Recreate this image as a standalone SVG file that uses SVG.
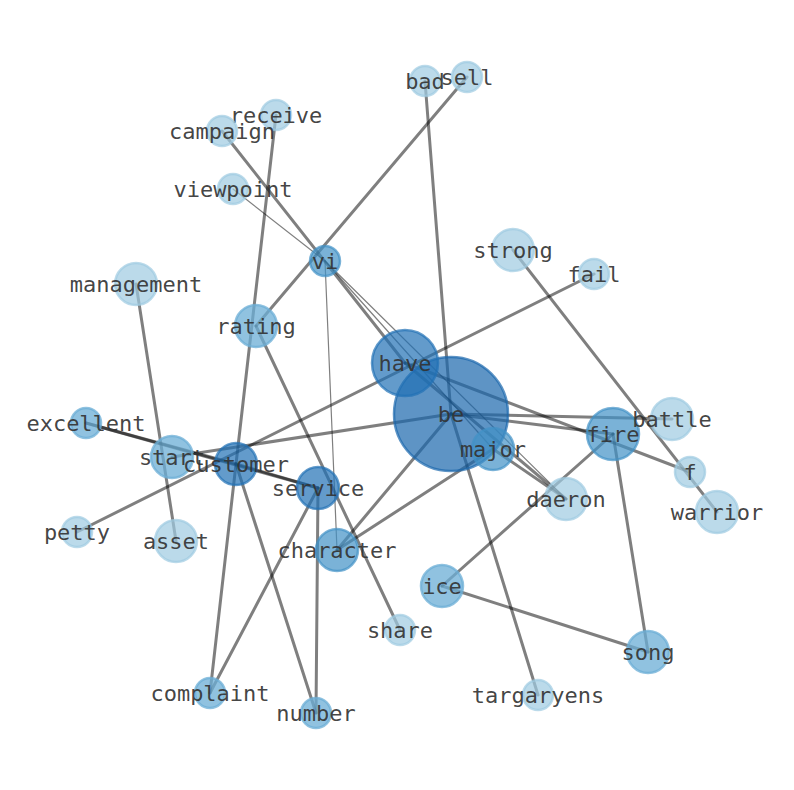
<svg xmlns="http://www.w3.org/2000/svg" width="794" height="790" viewBox="0 0 794 790">
<style>
.e{stroke:#000;stroke-opacity:0.5;stroke-width:3;fill:none;stroke-linecap:round}
.t{stroke-width:1.2}
.n circle{stroke-width:2.5}
.l1 circle{fill:#9ecae1;stroke:#9ecae1;fill-opacity:0.7;stroke-opacity:0.7}
.l2 circle{fill:#6baed6;stroke:#6baed6;fill-opacity:0.75;stroke-opacity:0.75}
.l3 circle{fill:#4292c6;stroke:#4292c6;fill-opacity:0.7;stroke-opacity:0.7}
.l4 circle{fill:#2171b5;stroke:#2171b5;fill-opacity:0.7;stroke-opacity:0.7}
.l5 circle{fill:#1a67ad;stroke:#1a67ad;fill-opacity:0.7;stroke-opacity:0.7}
text{font-family:"DejaVu Sans Mono","Liberation Mono",monospace;font-size:22px;fill:#333;fill-opacity:0.92;text-anchor:middle;dominant-baseline:central}
</style>
<rect width="794" height="790" fill="#fff"/>
<g id="edges">
<line class="e" x1="425" y1="81" x2="451" y2="414"/>
<line class="e" x1="467" y1="77" x2="256" y2="326"/>
<line class="e" x1="222" y1="131" x2="405" y2="363"/>
<line class="e" x1="276" y1="115" x2="236" y2="464"/>
<line class="e t" x1="233" y1="189" x2="325" y2="261"/>
<line class="e t" x1="325" y1="261" x2="337" y2="550"/>
<line class="e t" x1="325" y1="261" x2="493" y2="449"/>
<line class="e t" x1="325" y1="261" x2="566" y2="499"/>
<line class="e" x1="136" y1="284" x2="176" y2="541"/>
<line class="e" x1="513" y1="250" x2="717" y2="512"/>
<line class="e" x1="594" y1="274" x2="77" y2="532"/>
<line class="e" x1="256" y1="326" x2="400" y2="630"/>
<line class="e" x1="172" y1="457" x2="451" y2="414"/>
<line class="e" x1="86" y1="423" x2="318" y2="488"/>
<line class="e" x1="86" y1="423" x2="236" y2="464"/>
<line class="e" x1="236" y1="464" x2="318" y2="488"/>
<line class="e" x1="236" y1="464" x2="210" y2="693"/>
<line class="e" x1="236" y1="464" x2="316" y2="713"/>
<line class="e" x1="318" y1="488" x2="210" y2="693"/>
<line class="e" x1="318" y1="488" x2="316" y2="713"/>
<line class="e" x1="337" y1="550" x2="451" y2="414"/>
<line class="e" x1="337" y1="550" x2="493" y2="449"/>
<line class="e" x1="451" y1="414" x2="538" y2="695"/>
<line class="e" x1="442" y1="586" x2="613" y2="434"/>
<line class="e" x1="442" y1="586" x2="648" y2="652"/>
<line class="e" x1="613" y1="434" x2="648" y2="652"/>
<line class="e" x1="405" y1="363" x2="690" y2="472"/>
<line class="e" x1="451" y1="414" x2="672" y2="419"/>
<line class="e" x1="451" y1="414" x2="613" y2="434"/>
<line class="e" x1="405" y1="363" x2="566" y2="499"/>
<line class="e" x1="493" y1="449" x2="566" y2="499"/>
</g>
<g id="node-bad" class="n l1"><circle cx="425" cy="81" r="15"/><text x="425" y="81">bad</text></g>
<g id="node-sell" class="n l1"><circle cx="467" cy="77" r="15"/><text x="467" y="77">sell</text></g>
<g id="node-receive" class="n l1"><circle cx="276" cy="115" r="15"/><text x="276" y="115">receive</text></g>
<g id="node-campaign" class="n l1"><circle cx="222" cy="131" r="15"/><text x="222" y="131">campaign</text></g>
<g id="node-viewpoint" class="n l1"><circle cx="233" cy="189" r="15"/><text x="233" y="189">viewpoint</text></g>
<g id="node-vi" class="n l3"><circle cx="325" cy="261" r="15"/><text x="325" y="261">vi</text></g>
<g id="node-strong" class="n l1"><circle cx="513" cy="250" r="21"/><text x="513" y="250">strong</text></g>
<g id="node-fail" class="n l1"><circle cx="594" cy="274" r="15"/><text x="594" y="274">fail</text></g>
<g id="node-management" class="n l1"><circle cx="136" cy="284" r="21"/><text x="136" y="284">management</text></g>
<g id="node-rating" class="n l2"><circle cx="256" cy="326" r="21"/><text x="256" y="326">rating</text></g>
<g id="node-be" class="n l5"><circle cx="451" cy="414" r="57"/><text x="451" y="414">be</text></g>
<g id="node-have" class="n l4"><circle cx="405" cy="363" r="33"/><text x="405" y="363">have</text></g>
<g id="node-major" class="n l3"><circle cx="493" cy="449" r="21"/><text x="493" y="449">major</text></g>
<g id="node-fire" class="n l3"><circle cx="613" cy="434" r="26"/><text x="613" y="434">fire</text></g>
<g id="node-battle" class="n l1"><circle cx="672" cy="419" r="21"/><text x="672" y="419">battle</text></g>
<g id="node-f" class="n l1"><circle cx="690" cy="472" r="15"/><text x="690" y="472">f</text></g>
<g id="node-warrior" class="n l1"><circle cx="717" cy="512" r="21"/><text x="717" y="512">warrior</text></g>
<g id="node-daeron" class="n l1"><circle cx="566" cy="499" r="21"/><text x="566" y="499">daeron</text></g>
<g id="node-excellent" class="n l2"><circle cx="86" cy="423" r="15"/><text x="86" y="423">excellent</text></g>
<g id="node-start" class="n l2"><circle cx="172" cy="457" r="21"/><text x="172" y="457">start</text></g>
<g id="node-customer" class="n l4"><circle cx="236" cy="464" r="21"/><text x="236" y="464">customer</text></g>
<g id="node-service" class="n l4"><circle cx="318" cy="488" r="21"/><text x="318" y="488">service</text></g>
<g id="node-petty" class="n l1"><circle cx="77" cy="532" r="15"/><text x="77" y="532">petty</text></g>
<g id="node-asset" class="n l1"><circle cx="176" cy="541" r="21"/><text x="176" y="541">asset</text></g>
<g id="node-character" class="n l3"><circle cx="337" cy="550" r="21"/><text x="337" y="550">character</text></g>
<g id="node-ice" class="n l2"><circle cx="442" cy="586" r="21"/><text x="442" y="586">ice</text></g>
<g id="node-share" class="n l1"><circle cx="400" cy="630" r="15"/><text x="400" y="630">share</text></g>
<g id="node-song" class="n l2"><circle cx="648" cy="652" r="21"/><text x="648" y="652">song</text></g>
<g id="node-complaint" class="n l2"><circle cx="210" cy="693" r="15"/><text x="210" y="693">complaint</text></g>
<g id="node-number" class="n l2"><circle cx="316" cy="713" r="15"/><text x="316" y="713">number</text></g>
<g id="node-targaryens" class="n l1"><circle cx="538" cy="695" r="15"/><text x="538" y="695">targaryens</text></g>
</svg>
